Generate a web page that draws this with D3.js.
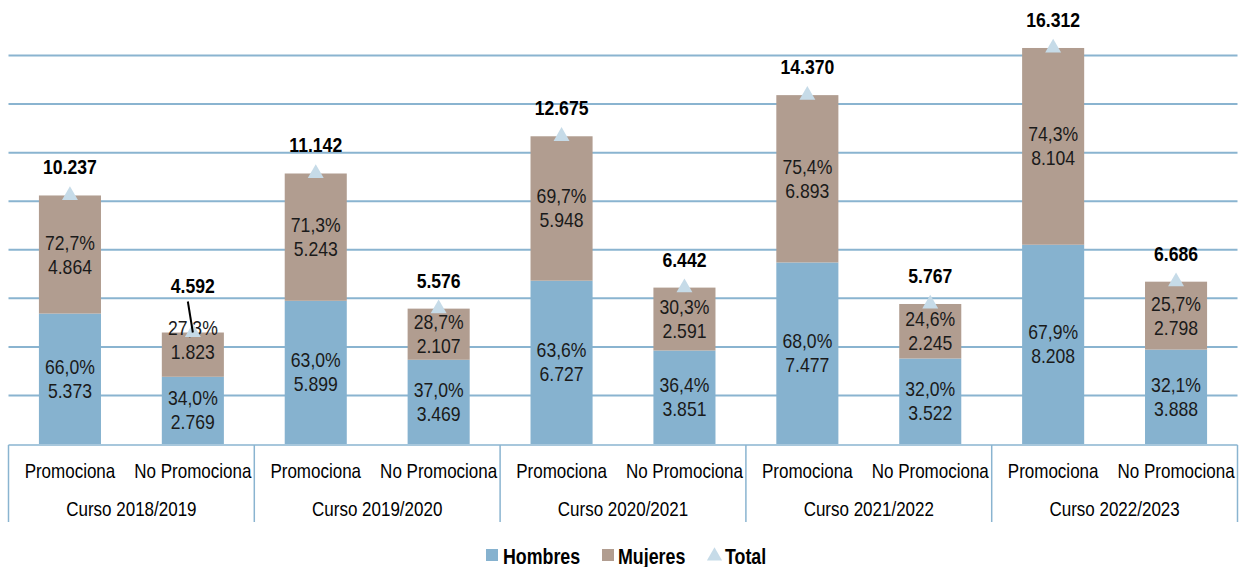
<!DOCTYPE html>
<html><head><meta charset="utf-8">
<script src="https://cdn.jsdelivr.net/npm/d3@7"></script>
<style>
html,body{margin:0;padding:0;background:#fff;}
svg text{font-family:"Liberation Sans",Arial,Helvetica,sans-serif;}
</style></head>
<body>
<svg id="chart" width="1240" height="567"></svg>
<script>
const courses = ["Curso 2018/2019","Curso 2019/2020","Curso 2020/2021","Curso 2021/2022","Curso 2022/2023"];
const outcomes = ["Promociona","No Promociona"];
const hombres = [5373, 2769, 5899, 3469, 6727, 3851, 7477, 3522, 8208, 3888];
const mujeres = [4864, 1823, 5243, 2107, 5948, 2591, 6893, 2245, 8104, 2798];
const totals  = [10237, 4592, 11142, 5576, 12675, 6442, 14370, 5767, 16312, 6686];
const hombresPct = [66.0, 34.0, 63.0, 37.0, 63.6, 36.4, 68.0, 32.0, 67.9, 32.1];
const mujeresPct = [72.7, 27.3, 71.3, 28.7, 69.7, 30.3, 75.4, 24.6, 74.3, 25.7];
const yTicks = [2000, 4000, 6000, 8000, 10000, 12000, 14000, 16000];
const seriesNames = ["Hombres","Mujeres","Total"];

const colH = "#86b2cf", colM = "#b19d90", colT = "#c6dbe8", colGrid = "#8ab4d0";
const loc = d3.formatLocale({decimal:",", thousands:".", grouping:[3], currency:["","€"]});
const fNum = loc.format(",d"), fPct = v => loc.format(".1f")(v) + "%";

const svg = d3.select("#chart");
const pLeft = 8.5, pRight = 1237.5, pTop = 7, pBase = 444;
const keys = [];
courses.forEach((c,i)=>outcomes.forEach((o,j)=>keys.push(i*2+j)));
const x = d3.scaleBand().domain(keys).range([pLeft,pRight]).paddingInner(0.495).paddingOuter(0.2475);
const xg = d3.scaleBand().domain(courses).range([pLeft,pRight]).padding(0);
const y = d3.scaleLinear().domain([0,18000]).range([pBase, pTop]);

// condensed text helper
function txt(parent, tx, ty, str, o){
  o = o || {};
  return parent.append("text")
    .attr("transform", `translate(${tx},${ty}) scale(${o.sx||0.85},1)`)
    .attr("text-anchor", o.anchor || "middle")
    .attr("dy", o.dy || null)
    .attr("font-size", o.size || 20)
    .attr("font-weight", o.bold ? "bold" : "normal")
    .attr("fill", o.fill || "#000")
    .text(str);
}

// gridlines
svg.append("g").selectAll("line").data(yTicks).join("line")
  .attr("x1", pLeft).attr("x2", pRight)
  .attr("y1", d=>y(d)).attr("y2", d=>y(d))
  .attr("stroke", colGrid).attr("stroke-width", 2);

// bars
const g = svg.append("g");
g.selectAll("rect.h").data(keys).join("rect").attr("class","h")
  .attr("x", d=>x(d)).attr("width", x.bandwidth())
  .attr("y", d=>y(hombres[d])).attr("height", d=>pBase - y(hombres[d]))
  .attr("fill", colH);
g.selectAll("rect.m").data(keys).join("rect").attr("class","m")
  .attr("x", d=>x(d)).attr("width", x.bandwidth())
  .attr("y", d=>y(hombres[d]+mujeres[d])).attr("height", d=>y(hombres[d]) - y(hombres[d]+mujeres[d]))
  .attr("fill", colM);

// inner labels
function inner(valArr, pctArr, lowArr, shift){
  const lg = svg.append("g");
  keys.forEach(d=>{
    const lo = lowArr ? lowArr[d] : 0;
    const c = (y(lo) + y(lo+valArr[d]))/2 + (shift[d]||0);
    const cx = x(d) + x.bandwidth()/2;
    txt(lg, cx, c - 12, fPct(pctArr[d]), {dy:"0.35em", fill:"#1a1a1a", sx:0.88});
    txt(lg, cx, c + 12, fNum(valArr[d]), {dy:"0.35em", fill:"#1a1a1a", sx:0.88});
  });
}
inner(hombres, hombresPct, null, {});
inner(mujeres, mujeresPct, hombres, {1:-15});

// total markers
const tri = d3.symbol().type(d3.symbolTriangle).size(110);
svg.append("g").selectAll("path").data(keys).join("path")
  .attr("d", tri)
  .attr("transform", d=>`translate(${x(d)+x.bandwidth()/2},${y(totals[d])})`)
  .attr("fill", colT);

// total labels
const tl = svg.append("g");
keys.forEach(d=>{
  const cx = x(d) + x.bandwidth()/2;
  const lift = d===1 ? 47 : 28;
  txt(tl, cx, y(totals[d]) - lift, fNum(totals[d]), {dy:"0.35em", bold:true, sx:0.88});
  if (d===1){
    svg.append("line").attr("x1", cx-5).attr("y1", y(totals[d]) - lift + 16)
      .attr("x2", cx).attr("y2", y(totals[d])).attr("stroke","#000").attr("stroke-width",2);
  }
});

// category axis
const ax = svg.append("g");
ax.append("line").attr("x1", pLeft).attr("x2", pRight).attr("y1", pBase+1).attr("y2", pBase+1)
  .attr("stroke", colGrid).attr("stroke-width", 1.5);
const bounds = courses.map(c=>xg(c)).concat([pRight]);
ax.selectAll("line.v").data(bounds).join("line").attr("class","v")
  .attr("x1", d=>d).attr("x2", d=>d).attr("y1", pBase+1).attr("y2", 522)
  .attr("stroke", colGrid).attr("stroke-width", 1.5);
keys.forEach(d=> txt(ax, x(d)+x.bandwidth()/2, 478, outcomes[d%2], {sx:0.85}));
courses.forEach(c=> txt(ax, xg(c)+xg.bandwidth()/2, 516, c, {sx:0.85}));

// legend
const leg = svg.append("g");
const legX = [486, 602, 707];
leg.append("rect").attr("x", legX[0]).attr("y", 549).attr("width", 12).attr("height", 12).attr("fill", colH);
txt(leg, legX[0]+17, 564, seriesNames[0], {anchor:"start", size:22, bold:true, sx:0.81});
leg.append("rect").attr("x", legX[1]).attr("y", 549).attr("width", 12).attr("height", 12).attr("fill", colM);
txt(leg, legX[1]+16, 564, seriesNames[1], {anchor:"start", size:22, bold:true, sx:0.81});
leg.append("path").attr("d", d3.symbol().type(d3.symbolTriangle).size(100)).attr("transform", `translate(${legX[2]+7.5},556)`).attr("fill", colT);
txt(leg, legX[2]+18, 564, seriesNames[2], {anchor:"start", size:22, bold:true, sx:0.81});
</script>
</body></html>
